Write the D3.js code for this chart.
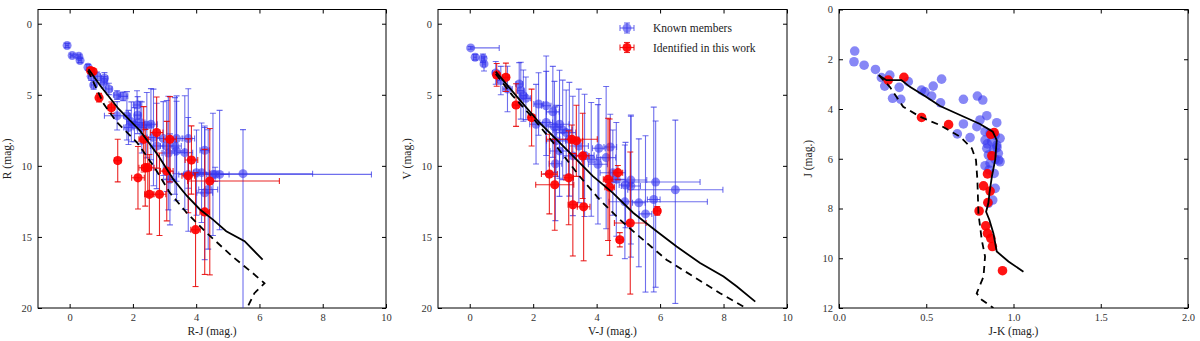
<!DOCTYPE html>
<html>
<head>
<meta charset="utf-8">
<script src="https://cdn.jsdelivr.net/npm/d3@7"></script>
<style>
  body { margin: 0; background: white; }
  text { font-family: "Liberation Serif", "DejaVu Serif", serif; }
</style>
</head>
<body>
<div id="chart"></div>
<script>
// Colors
var knownFill = "rgba(55, 55, 240, 0.6)";
var knownBar = "rgba(50, 50, 230, 0.7)";
var newFill = "rgba(255, 0, 0, 0.92)";
var newBar = "rgba(230, 0, 0, 0.85)";

// --- Panel 1: R vs R-J ---
var p1KnownX    = [-0.08, 0.08, 0.29, 0.33, 0.58, 0.68, 0.76, 0.87, 1.10, 1.08, 1.24, 1.50, 1.69, 1.50, 1.81, 1.86, 2.13, 2.15, 2.23, 2.28, 2.44, 2.57, 2.65, 2.75, 2.96, 3.07, 3.12, 3.17, 3.33, 3.38, 3.38, 3.64, 3.75, 3.75, 4.27, 4.01, 4.17, 4.27, 4.38, 4.53, 4.74, 5.48, 4.60, 1.95, 2.05];
var p1KnownY    = [1.53, 2.24, 2.29, 2.59, 3.06, 3.70, 4.31, 3.70, 3.84, 4.12, 4.59, 5.02, 5.11, 6.48, 6.48, 7.30, 5.72, 6.43, 6.95, 7.30, 7.14, 7.07, 8.00, 8.60, 8.08, 8.60, 9.10, 10.95, 8.60, 8.08, 8.95, 9.07, 10.60, 8.08, 8.90, 10.48, 10.48, 11.90, 11.66, 10.60, 10.60, 10.55, 10.60, 6.90, 7.10];
var p1KnownXErr = [0.05, 0.05, 0.05, 0.05, 0.05, 0.08, 0.08, 0.1, 0.1, 0.1, 0.1, 0.1, 0.15, 0.4, 0.1, 0.15, 0.1, 0.1, 0.15, 0.15, 0.15, 0.2, 0.2, 0.2, 0.2, 0.2, 0.2, 0.2, 0.2, 0.2, 0.25, 0.25, 0.3, 0.2, 0.15, 0.25, 0.25, 0.25, 0.3, 0.2, 0.3, 2.2, [1.0, 4.94], 0.15, 0.15];
var p1KnownYErr = [0.15, 0.1, 0.1, 0.15, 0.2, 0.3, 0.3, 0.3, 0.4, 0.4, 0.4, 0.3, 0.3, 1.0, 1.7, 1.2, 1.0, 1.3, 1.5, 1.8, 2.3, 2.5, 3.4, 3.0, 2.6, 3.2, 4.0, 3.2, 3.4, 3.0, 3.5, 4.0, 4.0, 3.5, 1.6, 3.0, 3.5, 4.7, 4.2, 4.3, [4.5, 3.9], [3.1, 9.5], 0.5, 1.4, 1.2];
var p1NewX    = [0.66, 0.74, 0.93, 1.32, 1.52, 2.16, 2.34, 2.39, 2.47, 2.52, 2.75, 2.84, 3.07, 3.17, 3.75, 3.85, 4.43, 4.27, 3.98];
var p1NewY    = [3.30, 3.37, 5.20, 5.91, 9.63, 10.84, 8.13, 10.13, 10.13, 12.00, 7.66, 12.00, 10.37, 8.13, 10.70, 9.59, 11.07, 13.24, 14.49];
var p1NewXErr = [0.05, 0.05, 0.05, 0.1, 0.1, 0.2, 0.15, 0.2, 0.2, 0.15, 0.2, 0.2, 0.2, 0.2, 0.2, 0.2, [0.7, 2.2], 0.15, 0.15];
var p1NewYErr = [0.2, 0.2, 0.3, 0.4, 1.5, 2.2, 2.3, 2.7, 2.0, 2.8, 2.5, 2.9, 3.5, 3.0, 2.6, 2.4, [3.7, 6.6], 4.4, 4.0];
var p1SolidX  = [0.60, 0.97, 1.55, 2.23, 2.81, 3.28, 3.70, 4.12, 4.53, 4.95, 5.53, 6.10];
var p1SolidY  = [3.20, 4.36, 6.00, 7.54, 9.30, 10.95, 12.10, 13.07, 13.78, 14.60, 15.30, 16.60];
var p1DashX   = [0.58, 1.08, 1.50, 2.13, 2.65, 3.17, 3.70, 4.32, 5.16, 5.79, 6.16, 5.84, 5.63];
var p1DashY   = [3.30, 5.65, 6.95, 8.36, 10.00, 11.90, 13.30, 14.70, 16.40, 17.55, 18.26, 18.96, 19.90];

// --- Panel 2: V vs V-J ---
var p2KnownX    = [0.03, 0.17, 0.42, 0.45, 0.82, 0.98, 1.19, 1.56, 1.61, 1.69, 1.77, 2.17, 2.41, 2.62, 2.09, 2.41, 2.67, 2.83, 2.93, 3.04, 2.72, 3.14, 2.83, 3.44, 3.25, 3.62, 3.83, 4.07, 4.43, 4.04, 4.30, 4.51, 2.70, 4.62, 4.91, 5.08, 5.08, 5.86, 6.48, 4.89, 5.33, 5.80, 5.54];
var p2KnownY    = [1.70, 2.36, 2.43, 2.83, 3.46, 4.00, 4.59, 4.24, 4.71, 5.06, 5.25, 5.65, 5.77, 6.20, 7.07, 6.95, 7.26, 7.07, 7.47, 7.66, 8.24, 8.13, 8.95, 8.60, 9.30, 9.26, 9.54, 8.76, 8.67, 9.89, 9.42, 10.48, 9.85, 10.95, 11.35, 11.00, 11.42, 11.14, 11.68, 12.53, 12.60, 12.37, 13.38];
var p2KnownXErr = [[0, 0.9], 0.05, 0.05, 0.05, 0.1, 0.1, 0.15, 0.1, 0.1, 0.1, 0.15, 0.15, 0.15, 0.2, 0.2, 0.2, 0.2, 0.3, 0.3, 0.3, 0.3, 0.3, 0.3, 0.3, 0.3, 0.3, 0.3, 0.2, 0.2, 0.3, 0.3, 0.4, 0.2, 0.3, 0.2, 0.5, 0.3, 1.4, 1.5, [0.5, 2.6], 0.2, 0.2, 0.2];
var p2KnownYErr = [0.1, 0.2, 0.3, 0.5, 0.8, 1.0, 1.6, 1.5, 2.0, 1.8, 1.5, 2.2, 3.5, 3.2, 2.8, 3.6, 3.2, 3.8, 3.5, 3.0, 2.5, 4.0, 3.2, 4.0, 4.2, 4.3, 4.0, 3.5, 2.3, 4.2, 5.0, 3.0, 4.0, 4.0, 3.0, 4.5, 5.0, [4.3, 7.4], [4.9, 8.0], 4.0, 4.5, 6.5, 5.5];
var p2NewX    = [0.85, 1.14, 1.46, 1.95, 2.51, 2.68, 3.12, 3.25, 3.36, 3.22, 3.59, 3.56, 4.36, 4.41, 4.67, 4.73, 5.06, 5.91];
var p2NewY    = [3.60, 3.77, 5.72, 6.60, 10.58, 11.33, 10.84, 12.74, 8.24, 8.13, 12.88, 9.30, 10.95, 11.50, 10.48, 15.20, 14.02, 13.17];
var p2NewXErr = [0.1, 0.1, 0.1, 0.1, 0.25, 0.6, 0.15, 0.15, 0.2, 0.8, 0.2, 0.2, 0.15, 0.15, 0.15, 0.1, 0.5, 0.1];
var p2NewYErr = [0.8, 1.0, 1.5, 2.0, 2.8, 3.2, 3.3, 3.6, 2.5, 1.0, 3.8, 3.0, 4.3, 4.8, 0.5, 0.5, 5.0, 0.3];
var p2SolidX  = [0.82, 1.46, 2.19, 3.04, 3.88, 4.51, 5.15, 5.89, 6.52, 7.26, 8.00, 8.42, 9.00];
var p2SolidY  = [3.37, 5.06, 6.95, 8.83, 10.72, 11.90, 13.30, 14.60, 15.67, 16.84, 17.79, 18.49, 19.55];
var p2DashX   = [0.82, 1.35, 1.98, 2.72, 3.46, 4.09, 4.73, 5.46, 6.20, 7.05, 7.89, 8.63];
var p2DashY   = [3.53, 5.06, 6.60, 8.60, 10.72, 12.37, 13.78, 15.19, 16.60, 17.79, 18.96, 19.90];

// --- Panel 3: J vs J-K (no error bars) ---
var p3KnownX = [0.090, 0.086, 0.144, 0.209, 0.243, 0.262, 0.291, 0.307, 0.345, 0.354, 0.397, 0.473, 0.492, 0.540, 0.531, 0.588, 0.582, 0.713, 0.793, 0.824, 0.847, 0.808, 0.713, 0.790, 0.678, 0.751, 0.904, 0.837, 0.866, 0.895, 0.923, 0.837, 0.874, 0.904, 0.847, 0.885, 0.913, 0.856, 0.895, 0.923, 0.837, 0.866, 0.889, 0.895, 0.881, 0.856, 0.850, 0.905, 0.915, 0.860];
var p3KnownY = [1.67, 2.10, 2.24, 2.41, 2.74, 3.08, 2.64, 3.57, 3.13, 3.61, 2.90, 3.24, 3.31, 3.08, 3.48, 2.80, 3.75, 3.61, 3.48, 3.64, 4.27, 4.44, 4.60, 4.71, 5.00, 5.15, 4.55, 4.91, 4.98, 5.05, 5.18, 5.25, 5.31, 5.45, 5.58, 5.65, 5.78, 5.85, 6.02, 6.12, 6.28, 6.18, 6.59, 7.19, 7.66, 7.79, 5.40, 5.55, 6.05, 6.45];
var p3NewX = [0.282, 0.372, 0.473, 0.628, 0.870, 0.889, 0.876, 0.851, 0.828, 0.866, 0.853, 0.803, 0.841, 0.851, 0.870, 0.879, 0.937];
var p3NewY = [2.84, 2.73, 4.34, 4.63, 5.02, 4.95, 5.88, 6.61, 7.09, 7.30, 7.76, 8.10, 8.70, 9.00, 9.20, 9.53, 10.50];
var p3SolidX = [0.228, 0.272, 0.358, 0.406, 0.492, 0.579, 0.693, 0.808, 0.881, 0.904, 0.895, 0.876, 0.862, 0.856, 0.843, 0.862, 0.885, 0.904, 0.971, 1.057];
var p3SolidY = [2.64, 2.84, 2.84, 3.11, 3.48, 3.88, 4.24, 4.60, 4.91, 5.25, 6.05, 6.72, 7.39, 7.79, 8.13, 8.46, 9.00, 9.73, 10.13, 10.54];
var p3DashX  = [0.228, 0.291, 0.368, 0.464, 0.579, 0.693, 0.761, 0.785, 0.793, 0.799, 0.818, 0.837, 0.828, 0.789, 0.818, 0.885];
var p3DashY  = [2.64, 3.11, 3.91, 4.31, 4.65, 5.11, 5.58, 6.05, 6.85, 8.19, 9.26, 9.93, 10.74, 11.41, 11.67, 12.00];

// tick values
var colorTicks = [0, 2, 4, 6, 8, 10];
var magTicks = [0, 5, 10, 15, 20];
var jkTicks = [0, 0.5, 1.0, 1.5, 2.0];
var jTicks = [0, 2, 4, 6, 8, 10, 12];

var legendLabels = ["Known members", "Identified in this work"];

var svg = d3.select("#chart").append("svg")
    .attr("width", 1200)
    .attr("height", 341);

function errPair(e) {
    return Array.isArray(e) ? e : [e, e];
}

function makeSeries(xs, ys, xe, ye) {
    return xs.map((x, i) => ({
        x: x,
        y: ys[i],
        xe: xe ? errPair(xe[i]) : null,
        ye: ye ? errPair(ye[i]) : null
    }));
}

function drawPanel(p) {
    var x = d3.scaleLinear().domain(p.xDomain).range([p.left, p.right]);
    var y = d3.scaleLinear().domain(p.yDomain).range([p.top, p.bottom]);
    var g = svg.append("g");

    // axes with inward ticks on all sides
    var fmtX = p.xFormat || d3.format("d");
    g.append("g").attr("transform", `translate(0,${p.bottom})`)
        .call(d3.axisBottom(x).tickValues(p.xTicks).tickFormat(fmtX).tickSizeInner(-4).tickSizeOuter(0).tickPadding(6));
    g.append("g").attr("transform", `translate(0,${p.top})`)
        .call(d3.axisTop(x).tickValues(p.xTicks).tickFormat("").tickSizeInner(-4).tickSizeOuter(0));
    g.append("g").attr("transform", `translate(${p.left},0)`)
        .call(d3.axisLeft(y).tickValues(p.yTicks).tickFormat(d3.format("d")).tickSizeInner(-4).tickSizeOuter(0).tickPadding(6));
    g.append("g").attr("transform", `translate(${p.right},0)`)
        .call(d3.axisRight(y).tickValues(p.yTicks).tickFormat("").tickSizeInner(-4).tickSizeOuter(0));
    g.selectAll(".domain").remove();
    g.selectAll(".tick line").attr("stroke", "black");
    g.selectAll(".tick text")
        .attr("font-family", "Liberation Serif, serif")
        .attr("font-size", "10.5px")
        .attr("fill", "#333");

    var clipId = "clip" + p.id;
    svg.append("clipPath").attr("id", clipId)
        .append("rect")
        .attr("x", p.left).attr("y", p.top)
        .attr("width", p.right - p.left).attr("height", p.bottom - p.top);
    var plot = svg.append("g").attr("clip-path", `url(#${clipId})`);

    p.series.forEach(s => {
        var data = s.data;
        var bars = plot.append("g")
            .attr("stroke", s.bar)
            .attr("stroke-width", 1.1)
            .attr("fill", "none");
        if (s.hasErr) {
            data.forEach(d => {
                var cx = x(d.x), cy = y(d.y);
                var x0 = x(d.x - d.xe[0]), x1 = x(d.x + d.xe[1]);
                var y0 = y(d.y - d.ye[0]), y1 = y(d.y + d.ye[1]);
                bars.append("line").attr("x1", x0).attr("x2", x1).attr("y1", cy).attr("y2", cy);
                bars.append("line").attr("x1", cx).attr("x2", cx).attr("y1", y0).attr("y2", y1);
                // caps
                if (d.xe[0] > 0) bars.append("line").attr("x1", x0).attr("x2", x0).attr("y1", cy - 3).attr("y2", cy + 3);
                if (d.xe[1] > 0) bars.append("line").attr("x1", x1).attr("x2", x1).attr("y1", cy - 3).attr("y2", cy + 3);
                bars.append("line").attr("x1", cx - 3).attr("x2", cx + 3).attr("y1", y0).attr("y2", y0);
                bars.append("line").attr("x1", cx - 3).attr("x2", cx + 3).attr("y1", y1).attr("y2", y1);
            });
        }
        plot.append("g").selectAll("circle")
            .data(data)
            .enter()
            .append("circle")
            .attr("cx", d => x(d.x))
            .attr("cy", d => y(d.y))
            .attr("r", s.r)
            .attr("fill", s.fill);
    });

    // model curves
    var line = d3.line().x(d => x(d[0])).y(d => y(d[1]));
    plot.append("path")
        .datum(p.solidX.map((v, i) => [v, p.solidY[i]]))
        .attr("d", line)
        .attr("fill", "none")
        .attr("stroke", "black")
        .attr("stroke-width", 1.8);
    plot.append("path")
        .datum(p.dashX.map((v, i) => [v, p.dashY[i]]))
        .attr("d", line)
        .attr("fill", "none")
        .attr("stroke", "black")
        .attr("stroke-width", 1.8)
        .attr("stroke-dasharray", "7,5");

    // frame
    g.append("rect")
        .attr("x", p.left).attr("y", p.top)
        .attr("width", p.right - p.left).attr("height", p.bottom - p.top)
        .attr("fill", "none")
        .attr("stroke", "black")
        .attr("stroke-width", 1);

    // labels
    svg.append("text")
        .attr("x", (p.left + p.right) / 2)
        .attr("y", 335)
        .attr("text-anchor", "middle")
        .attr("font-size", "11.5px")
        .attr("fill", "#222")
        .text(p.xLabel);
    svg.append("text")
        .attr("transform", `translate(${p.left - 27},${(p.top + p.bottom) / 2}) rotate(-90)`)
        .attr("text-anchor", "middle")
        .attr("font-size", "11.5px")
        .attr("fill", "#222")
        .text(p.yLabel);

    return {x: x, y: y};
}

var panels = [
    {
        id: 1, left: 38, right: 386, top: 9.5, bottom: 308,
        xDomain: [-1, 10], yDomain: [-1, 20], xTicks: colorTicks, yTicks: magTicks,
        xLabel: "R-J (mag.)", yLabel: "R (mag.)",
        series: [
            {data: makeSeries(p1KnownX, p1KnownY, p1KnownXErr, p1KnownYErr), fill: knownFill, bar: knownBar, r: 4.5, hasErr: true},
            {data: makeSeries(p1NewX, p1NewY, p1NewXErr, p1NewYErr), fill: newFill, bar: newBar, r: 4.6, hasErr: true}
        ],
        solidX: p1SolidX, solidY: p1SolidY, dashX: p1DashX, dashY: p1DashY
    },
    {
        id: 2, left: 438, right: 787, top: 9.5, bottom: 308,
        xDomain: [-1, 10], yDomain: [-1, 20], xTicks: colorTicks, yTicks: magTicks,
        xLabel: "V-J (mag.)", yLabel: "V (mag.)",
        series: [
            {data: makeSeries(p2KnownX, p2KnownY, p2KnownXErr, p2KnownYErr), fill: knownFill, bar: knownBar, r: 4.5, hasErr: true},
            {data: makeSeries(p2NewX, p2NewY, p2NewXErr, p2NewYErr), fill: newFill, bar: newBar, r: 4.6, hasErr: true}
        ],
        solidX: p2SolidX, solidY: p2SolidY, dashX: p2DashX, dashY: p2DashY
    },
    {
        id: 3, left: 839, right: 1188, top: 9.5, bottom: 308,
        xDomain: [0, 2], yDomain: [0, 12], xTicks: jkTicks, yTicks: jTicks,
        xFormat: d3.format(".1f"),
        xLabel: "J-K (mag.)", yLabel: "J (mag.)",
        series: [
            {data: makeSeries(p3KnownX, p3KnownY), fill: knownFill, bar: knownBar, r: 4.8, hasErr: false},
            {data: makeSeries(p3NewX, p3NewY), fill: newFill, bar: newBar, r: 4.8, hasErr: false}
        ],
        solidX: p3SolidX, solidY: p3SolidY, dashX: p3DashX, dashY: p3DashY
    }
];

panels.forEach(drawPanel);

// legend in panel 2
var legend = svg.append("g");
var legendStyles = [{fill: knownFill, bar: knownBar}, {fill: newFill, bar: newBar}];
legendLabels.forEach((label, i) => {
    var ly = 28 + i * 19.5;
    var lx = 627;
    var st = legendStyles[i];
    var lg = legend.append("g").attr("stroke", st.bar).attr("stroke-width", 1.1);
    lg.append("line").attr("x1", lx - 7).attr("x2", lx + 7).attr("y1", ly).attr("y2", ly);
    lg.append("line").attr("x1", lx - 7).attr("x2", lx - 7).attr("y1", ly - 3).attr("y2", ly + 3);
    lg.append("line").attr("x1", lx + 7).attr("x2", lx + 7).attr("y1", ly - 3).attr("y2", ly + 3);
    lg.append("line").attr("x1", lx).attr("x2", lx).attr("y1", ly - 5).attr("y2", ly + 5);
    lg.append("line").attr("x1", lx - 3).attr("x2", lx + 3).attr("y1", ly - 5).attr("y2", ly - 5);
    lg.append("line").attr("x1", lx - 3).attr("x2", lx + 3).attr("y1", ly + 5).attr("y2", ly + 5);
    legend.append("circle").attr("cx", lx).attr("cy", ly).attr("r", 4.5).attr("fill", st.fill);
    legend.append("text")
        .attr("x", 653)
        .attr("y", ly + 4)
        .attr("font-size", "11.5px")
        .attr("fill", "#222")
        .text(label);
});
</script>
</body>
</html>
